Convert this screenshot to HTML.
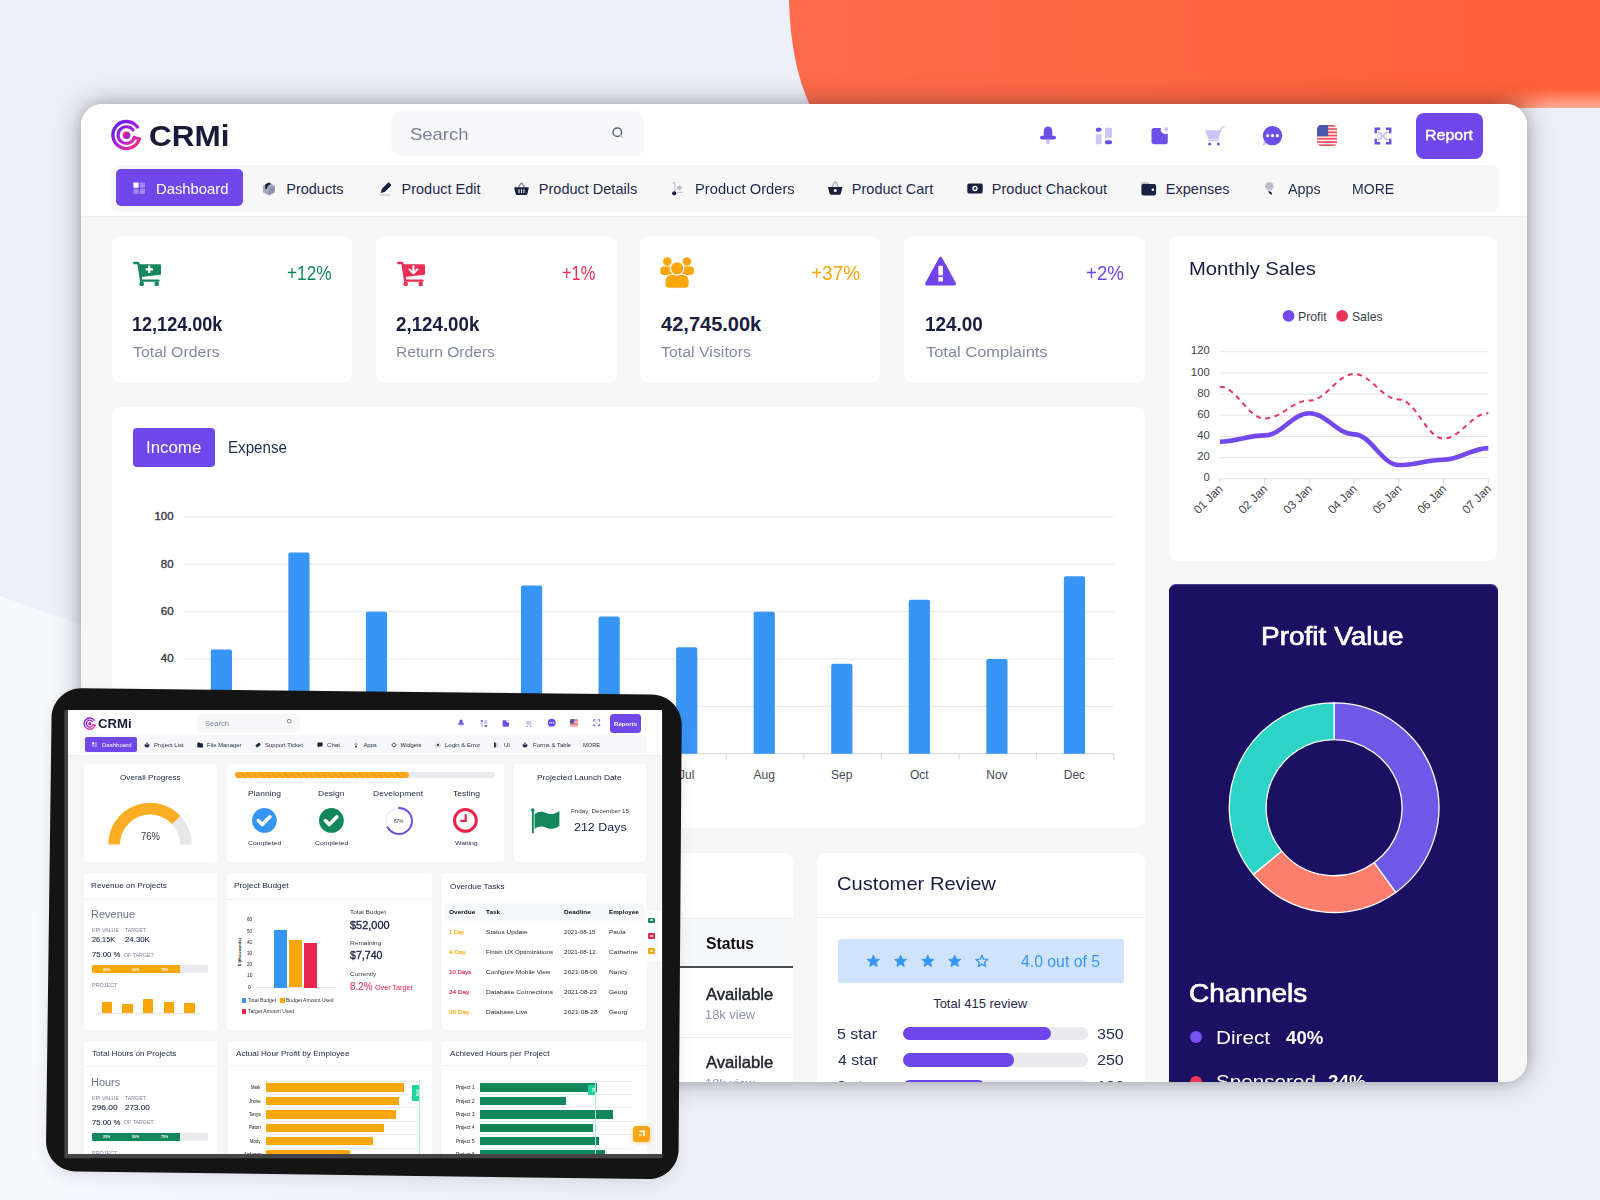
<!DOCTYPE html>
<html lang="en"><head><meta charset="utf-8"><title>CRMi Dashboard</title>
<style>
*{margin:0;padding:0;box-sizing:border-box}
html,body{width:1600px;height:1200px;overflow:hidden}
body{position:relative;background:#eef0f8;font-family:"Liberation Sans",sans-serif;color:#1b2142}
div,.t,svg.a{position:absolute}
.t{white-space:nowrap;line-height:1;transform-origin:0 50%;display:block;font-weight:400;font-style:normal;text-decoration:none}
.card{background:#fff;border-radius:9px}
</style></head>
<body>
<svg class="a" style="left:0;top:0" width="1600" height="1200" viewBox="0 0 1600 1200"><defs><linearGradient id="og" x1="0" y1="0" x2="1" y2="0"><stop offset="0" stop-color="#fe6b4b"/><stop offset=".45" stop-color="#ff6643"/><stop offset="1" stop-color="#ff5f39"/></linearGradient><linearGradient id="lg0" gradientUnits="userSpaceOnUse" x1="0" y1="0" x2="520" y2="0"><stop offset="0" stop-color="#f7f9fd"/><stop offset=".2" stop-color="#f5f7fc"/><stop offset="1" stop-color="#edf0f8"/></linearGradient><linearGradient id="hl" x1="0" y1="0" x2="0" y2="1"><stop offset="0" stop-color="#ffc9b8" stop-opacity="0"/><stop offset="1" stop-color="#ffc9b8" stop-opacity=".75"/></linearGradient><linearGradient id="hm" x1="0" y1="0" x2="1" y2="0"><stop offset="0" stop-color="#fff" stop-opacity="0"/><stop offset=".55" stop-color="#fff" stop-opacity="1"/></linearGradient><mask id="hmk"><rect x="1490" y="80" width="110" height="30" fill="url(#hm)"/></mask></defs><rect width="1600" height="1200" fill="#edf0f8"/><path d="M0 596 L520 781 L520 1200 L0 1200Z" fill="url(#lg0)"/><path d="M789 0 C790 40 796 76 811 108 L1600 108 L1600 0Z" fill="url(#og)"/><rect x="1490" y="89" width="110" height="19" fill="url(#hl)" mask="url(#hmk)"/></svg>
<div class="win" style="left:81px;top:104px;width:1446px;height:978px;border-radius:21px;background:#f6f6f7;overflow:hidden;box-shadow:0 0 28px rgba(38,40,48,.36),0 0 12px rgba(38,40,48,.16)">
<header aria-label="Top bar">
<div style="left:0px;top:0px;width:1446px;height:113px;background:#fff;border-bottom:1px solid #eeeef2"></div>
<svg class="a" style="left:28.7px;top:14.5px" width="32" height="32" viewBox="0 0 32 32"><defs><linearGradient id="lg1" gradientUnits="userSpaceOnUse" x1="4" y1="4" x2="28" y2="28"><stop offset="0" stop-color="#5a1cf0"/><stop offset=".55" stop-color="#b31fe0"/><stop offset="1" stop-color="#ff2d7a"/></linearGradient><linearGradient id="lg1d" x1="0" y1="0" x2="1" y2="1"><stop offset="0" stop-color="#ff2a6a"/><stop offset="1" stop-color="#7a1cf0"/></linearGradient></defs><path d="M27.32 8.06A13.5 13.5 0 1 0 29.31 19.95" fill="none" stroke="url(#lg1)" stroke-width="3.300" stroke-linecap="round"/><path d="M23.11 11.12A8.3 8.3 0 1 0 24.34 18.43" fill="none" stroke="url(#lg1)" stroke-width="3.100" stroke-linecap="round"/><path d="M24.34 18.43L29.31 19.95" stroke="url(#lg1)" stroke-width="3.100" stroke-linecap="round"/><circle cx="16.500" cy="16.200" r="3.800" fill="url(#lg1d)"/></svg>
<span class="t" style="left:68.04px;top:17.4px;font-size:29.4px;font-weight:700;color:#191a3a;transform:scaleX(1.071);">CRMi</span>
<div style="left:310px;top:7px;width:253px;height:45px;background:#f7f7f9;border-radius:9px"></div>
<span class="t" style="left:328.77px;top:22.2px;font-size:17px;color:#7b8098;transform:scaleX(1.086);">Search</span>
<svg class="a" style="left:529px;top:21px" width="16" height="16" viewBox="0 0 16 16"><circle cx="7.3" cy="7.2" r="4.3" fill="none" stroke="#5d6280" stroke-width="1.5"/><path d="M10.6 10.6l1.6 1.7" stroke="#b7bacb" stroke-width="1.4" stroke-linecap="round"/></svg>
<svg class="a" style="left:957px;top:21px" width="20" height="20" viewBox="0 0 20 20"><rect x="8.2" y="14" width="3.6" height="5" rx="1.3" fill="#cfc4f7"/><path d="M5.700 11.500V6a4.300 4.600 0 0 1 8.600 0v5.500z" fill="#6c4fe6"/><rect x="2" y="10.700" width="16" height="3.700" rx="1.850" fill="#6c4fe6"/></svg>
<svg class="a" style="left:1013px;top:21px" width="20" height="20" viewBox="0 0 20 20"><rect x="1.8" y="2.700" width="5.700" height="4.100" rx="1.800" fill="#6c4fe6"/><rect x="11" y="2.700" width="7" height="10.100" rx="1" fill="#cfc4f7"/><rect x="1.800" y="9.200" width="5.700" height="10.100" rx="1" fill="#cfc4f7"/><rect x="11" y="15.200" width="7" height="4.100" rx="1.800" fill="#6c4fe6"/></svg>
<svg class="a" style="left:1069px;top:21px" width="20" height="20" viewBox="0 0 20 20"><path d="M4.200 3h6.800a4.600 4.600 0 0 0 6.800 5.400V16.500a2.700 2.700 0 0 1-2.700 2.700H4.200a2.700 2.700 0 0 1-2.700-2.700V5.700A2.700 2.700 0 0 1 4.200 3z" fill="#6c4fe6"/><circle cx="16.200" cy="4.300" r="2.100" fill="#cfc4f7"/></svg>
<svg class="a" style="left:1123px;top:21px" width="22" height="22" viewBox="0 0 22 22"><path d="M1 5.200h14.600l2.200-3.400c.3-.5.800-.6 1.300-.5l1.700.4-.3 1.200-1.500-.3-2.500 4.300-1.900 7.300H4.200z" fill="#cfc4f7"/><rect x="4.200" y="14.700" width="11" height="1.300" fill="#cfc4f7"/><circle cx="5.600" cy="19" r="1.500" fill="#6c4fe6"/><circle cx="14.400" cy="19" r="1.500" fill="#6c4fe6"/></svg>
<svg class="a" style="left:1180px;top:20px" width="23" height="23" viewBox="0 0 23 23"><path d="M1.500 21.500l2.200-5.500 4 3.700z" fill="#cfc4f7"/><circle cx="11.500" cy="11.600" r="9.700" fill="#6c4fe6"/><circle cx="6.700" cy="11.700" r="1.600" fill="#fff"/><circle cx="11.500" cy="11.700" r="1.600" fill="#fff"/><circle cx="16.300" cy="11.700" r="1.600" fill="#fff"/></svg>
<svg class="a" style="left:1235.9px;top:21px" width="20.2" height="21" viewBox="0 0 20.2 21"><defs><clipPath id="fc"><rect x="0" y="0" width="20.200" height="21" rx="4.500"/></clipPath></defs><g clip-path="url(#fc)"><rect width="20.200" height="21" fill="#fdeeee"/><rect x="0" y="0" width="20.2" height="1.700" fill="#f4525f"/><rect x="0" y="3.23" width="20.2" height="1.700" fill="#f4525f"/><rect x="0" y="6.46" width="20.2" height="1.700" fill="#f4525f"/><rect x="0" y="9.69" width="20.2" height="1.700" fill="#f4525f"/><rect x="0" y="12.92" width="20.2" height="1.700" fill="#f4525f"/><rect x="0" y="16.15" width="20.2" height="1.700" fill="#f4525f"/><rect x="0" y="19.38" width="20.2" height="1.700" fill="#f4525f"/><rect x="0" y="0" width="11.200" height="11.200" fill="#4a5aa8"/></g></svg>
<svg class="a" style="left:1293px;top:23px" width="18" height="18" viewBox="0 0 18 18"><path d="M4.500 4.500l9 9M13.500 4.500l-9 9" stroke="#cfc4f7" stroke-width="2"/><path d="M1.800 6.200V1.800h4.400M11.800 1.800h4.400v4.400M16.200 11.800v4.400h-4.400M6.200 16.200H1.800v-4.400" fill="none" stroke="#6c4fe6" stroke-width="2.500"/></svg>
<div style="left:1335.2px;top:9.2px;width:67px;height:45.4px;background:#7047eb;border-radius:8px"></div>
<span class="t" style="left:1343.72px;top:24.4px;font-size:14.6px;color:#fff;transform:scaleX(1.093);-webkit-text-stroke:0.40px #fff;">Report</span>
<nav aria-label="Main">
<div style="left:29.5px;top:60.5px;width:1388.5px;height:47px;background:#f7f7f8;border-radius:7px"></div>
<div style="left:34.6px;top:65px;width:127.6px;height:37.3px;background:#7047eb;border-radius:5px"></div>
<svg class="a" style="left:51.5px;top:78.3px" width="12.4" height="12.4" viewBox="0 0 12.400 12.400"><rect x=".4" y=".5" width="5.200" height="5.200" rx=".8" fill="#fff"/><rect x="6.800" y=".5" width="5.200" height="5.200" rx=".8" fill="#fff" opacity=".35"/><rect x=".4" y="6.700" width="5.200" height="5.200" rx=".8" fill="#fff" opacity=".35"/><rect x="6.800" y="6.700" width="5.200" height="5.200" rx=".8" fill="#fff" opacity=".35"/></svg>
<a class="t" style="left:75.21px;top:77.5px;font-size:14.5px;color:#fff;transform:scaleX(1.022);">Dashboard</a>
<a class="t" style="left:205.23px;top:77.5px;font-size:14.5px;color:#1f2a49;">Products</a>
<a class="t" style="left:320.54px;top:77.5px;font-size:14.5px;color:#1f2a49;">Product Edit</a>
<a class="t" style="left:457.84px;top:77.5px;font-size:14.5px;color:#1f2a49;">Product Details</a>
<a class="t" style="left:613.82px;top:77.5px;font-size:14.5px;color:#1f2a49;transform:scaleX(1.014);">Product Orders</a>
<a class="t" style="left:770.83px;top:77.5px;font-size:14.5px;color:#1f2a49;">Product Cart</a>
<a class="t" style="left:910.83px;top:77.5px;font-size:14.5px;color:#1f2a49;">Product Chackout</a>
<a class="t" style="left:1084.85px;top:77.5px;font-size:14.5px;color:#1f2a49;">Expenses</a>
<a class="t" style="left:1206.5px;top:77.5px;font-size:14.5px;color:#1f2a49;transform:scaleX(0.986);">Apps</a>
<a class="t" style="left:1270.58px;top:77.5px;font-size:14.5px;color:#1f2a49;transform:scaleX(0.970);">MORE</a>
<svg class="a" style="left:180.8px;top:77.8px" width="13.6" height="14" viewBox="0 0 13.600 14"><path d="M6.800.5l5.900 3.200v6.600L6.800 13.500.9 10.300V3.700z" fill="#a5aabd"/><path d="M6.800 7v6.500l5.900-3.200V3.700z" fill="#8d93aa"/><path d="M3.200 2.400L6.800.5l2.600 1.400C6.500 2.500 5 4.200 4.800 7.300L3.200 6.400z" fill="#18213f"/></svg>
<svg class="a" style="left:297.5px;top:77.5px" width="13" height="14" viewBox="0 0 13 14"><path d="M8.700.9c.5-.5 1.200-.5 1.700 0l1.400 1.400c.5.5.5 1.200 0 1.700L5.700 10.100l-3.900 1 .9-4z" fill="#18213f"/><rect x="1" y="12.400" width="10.500" height="1.100" rx=".5" fill="#b9bdcc"/></svg>
<svg class="a" style="left:432.5px;top:77.5px" width="15" height="14" viewBox="0 0 15 14"><path d="M4.300 5.500L6.900 1.400 8.100 1.400 10.700 5.500" fill="none" stroke="#7f86a0" stroke-width="1.300"/><path d="M.8 5.300h13.400c.4 0 .7.400.6.800l-1.500 6c-.2.600-.7 1-1.300 1H3c-.6 0-1.100-.4-1.300-1l-1.500-6c-.1-.4.200-.8.600-.8z" fill="#18213f"/><path d="M5 7.600v3.200M7.500 7.600v3.200M10 7.600v3.200" stroke="#fff" stroke-width="1" stroke-linecap="round"/></svg>
<svg class="a" style="left:590px;top:77.5px" width="13" height="14" viewBox="0 0 13 14"><path d="M1.600.8h1.600c.4 0 .7.300.7.700v8.300" fill="none" stroke="#c4c8d6" stroke-width="1.400"/><circle cx="8.300" cy="5.800" r="2.400" fill="#b9bdcc"/><rect x="5.600" y="9.700" width="6.600" height="1.400" rx=".7" fill="#c4c8d6"/><circle cx="3.200" cy="11.300" r="2.100" fill="#18213f"/></svg>
<svg class="a" style="left:747px;top:77px" width="14.5" height="14.5" viewBox="0 0 14.500 14.500"><path d="M4 6.300L6.600 1.200 7.900 1.200 10.500 6.300" fill="none" stroke="#aeb3c4" stroke-width="1.400"/><path d="M.7 5.900h13.100c.4 0 .7.400.6.800l-1.600 6c-.2.600-.7 1-1.300 1H3c-.6 0-1.100-.4-1.300-1L.1 6.700c-.1-.4.200-.8.600-.8z" fill="#18213f"/><circle cx="7.250" cy="9.600" r="1.500" fill="#fff"/></svg>
<svg class="a" style="left:885.5px;top:78.5px" width="16" height="11" viewBox="0 0 16 11"><rect x=".3" y=".6" width="15.400" height="9.800" rx="1.600" fill="#18213f"/><circle cx="8" cy="5.500" r="2.700" fill="#fff"/><circle cx="8" cy="5.500" r="1.200" fill="#18213f"/></svg>
<svg class="a" style="left:1060px;top:76.5px" width="15.5" height="15" viewBox="0 0 15.500 15"><path d="M1.600 1.200h5.600c.6 0 1 .4 1 1v1.500H.6V2.200c0-.6.400-1 1-1z" fill="#b9bdcc"/><rect x=".4" y="3" width="14.700" height="11.400" rx="1.800" fill="#18213f"/><circle cx="11.800" cy="8.800" r="1.300" fill="#fff"/></svg>
<svg class="a" style="left:1182.5px;top:77px" width="11" height="15" viewBox="0 0 11 15"><circle cx="5.300" cy="5.200" r="4.300" fill="#b9bdcc"/><path d="M3.600 8.500h3.600l-.5 2.500H4.100z" fill="#d5d8e2"/><path d="M4.400 10.200c1.600-.3 3.200.6 3.500 2.400l.2 1.400-1.700-.9c-1.200-.6-1.800-1.600-2-2.900z" fill="#18213f"/></svg>
</nav>
</header>
<section aria-label="Summary">
<div class="card" style="left:30.8px;top:132px;width:240.2px;height:147px;"></div>
<div class="card" style="left:294.5px;top:132px;width:241px;height:147px;"></div>
<div class="card" style="left:559px;top:132px;width:240.4px;height:147px;"></div>
<div class="card" style="left:823px;top:132px;width:241.3px;height:147px;"></div>
<svg class="a" style="left:51.8px;top:157.1px" width="28.6" height="25.4" viewBox="0 0 28.600 25.400"><path d="M1.300 2.100h3.200c.6 0 1 .4 1.100 1L8.200 19.600" fill="none" stroke="#12875b" stroke-width="2.500" stroke-linecap="round" stroke-linejoin="round"/><path d="M5.500 3.300h21.400c.7 0 1.200.5 1.200 1.200v8c0 .6-.4 1.100-1 1.200L8.300 16.100z" fill="#12875b"/><path d="M8.200 19.600h17.200" stroke="#12875b" stroke-width="2.400" stroke-linecap="round"/><circle cx="8.700" cy="22.900" r="2.300" fill="#12875b"/><circle cx="23.700" cy="22.900" r="2.300" fill="#12875b"/><path d="M16.200 4.600v7.400M12.500 8.300h7.400" stroke="#fff" stroke-width="2.300"/></svg>
<span class="t" style="left:206.14px;top:160px;font-size:19.4px;color:#12875b;transform:scaleX(0.891);">+12%</span>
<span class="t" style="left:50.82px;top:210.3px;font-size:20px;font-weight:700;color:#191d40;transform:scaleX(0.903);">12,124.00k</span>
<span class="t" style="left:51.58px;top:239.6px;font-size:15.2px;color:#858aa3;transform:scaleX(1.048);">Total Orders</span>
<svg class="a" style="left:315.8px;top:156.9px" width="28.6" height="25.4" viewBox="0 0 28.600 25.400"><path d="M1.300 2.100h3.200c.6 0 1 .4 1.100 1L8.200 19.600" fill="none" stroke="#ea2f56" stroke-width="2.500" stroke-linecap="round" stroke-linejoin="round"/><path d="M5.500 3.300h21.400c.7 0 1.200.5 1.200 1.200v8c0 .6-.4 1.100-1 1.200L8.300 16.100z" fill="#ea2f56"/><path d="M8.200 19.600h17.200" stroke="#ea2f56" stroke-width="2.400" stroke-linecap="round"/><circle cx="8.700" cy="22.900" r="2.300" fill="#ea2f56"/><circle cx="23.700" cy="22.900" r="2.300" fill="#ea2f56"/><path d="M16.400 4.400v7.600M12 7.900l4.400 4.400 4.400-4.400" fill="none" stroke="#fff" stroke-width="2" stroke-linejoin="miter"/></svg>
<span class="t" style="left:481.18px;top:160px;font-size:19.4px;color:#ea2f56;transform:scaleX(0.848);">+1%</span>
<span class="t" style="left:315.34px;top:210.3px;font-size:20px;font-weight:700;color:#191d40;transform:scaleX(0.937);">2,124.00k</span>
<span class="t" style="left:314.75px;top:239.6px;font-size:15.2px;color:#858aa3;transform:scaleX(1.028);">Return Orders</span>
<svg class="a" style="left:579.4px;top:152.7px" width="34.2" height="32" viewBox="0 0 34.200 32"><circle cx="7.300" cy="4.600" r="4.250" fill="#fba60b"/><circle cx="26.900" cy="4.600" r="4.250" fill="#fba60b"/><path d="M3.600 9.400h7.400c1 0 1.500.6 1.500 1.500v4.300c0 1.700-1.300 2.800-3 2.800H3.500C1.700 18 .3 16.700.3 15v-2.300C.3 10.900 1.700 9.400 3.600 9.400z" fill="#fba60b"/><path d="M30.600 9.400h-7.400c-1 0-1.500.6-1.500 1.500v4.300c0 1.700 1.300 2.800 3 2.800h6c1.800 0 3.200-1.300 3.200-3v-2.300c0-1.800-1.400-3.300-3.300-3.300z" fill="#fba60b"/><path d="M5 26.900V24.500C5 20 8 17.200 12.500 17.200H21.700C26.200 17.200 29.200 20 29.200 24.500V26.900C29.200 29.500 27.400 31.300 24.800 31.300H9.400C6.800 31.300 5 29.500 5 26.900Z" fill="#fba60b" stroke="#fff" stroke-width="1.100"/><circle cx="17.100" cy="11.400" r="7.300" fill="#fff"/><circle cx="17.100" cy="11.400" r="6.100" fill="#fba60b"/></svg>
<span class="t" style="left:730.05px;top:160px;font-size:19.4px;color:#fba60b;transform:scaleX(0.979);">+37%</span>
<span class="t" style="left:580.1px;top:210.3px;font-size:20px;font-weight:700;color:#191d40;">42,745.00k</span>
<span class="t" style="left:580.08px;top:239.6px;font-size:15.2px;color:#858aa3;transform:scaleX(1.048);">Total Visitors</span>
<svg class="a" style="left:843.9px;top:152.4px" width="31.2" height="30" viewBox="0 0 31.200 30"><path d="M14.100 1.700c.7-1.300 2.300-1.300 3 0l13.700 25c.7 1.300-.1 2.800-1.600 2.800H2c-1.500 0-2.300-1.500-1.600-2.800z" fill="#7044ec"/><rect x="13.400" y="9.800" width="4.500" height="9.600" fill="#fff"/><rect x="13.400" y="21" width="4.500" height="4.500" fill="#fff"/></svg>
<span class="t" style="left:1005.06px;top:160px;font-size:19.4px;color:#7044ec;transform:scaleX(0.965);">+2%</span>
<span class="t" style="left:843.86px;top:210.3px;font-size:20px;font-weight:700;color:#191d40;transform:scaleX(0.946);">124.00</span>
<span class="t" style="left:844.67px;top:239.6px;font-size:15.2px;color:#858aa3;transform:scaleX(1.083);">Total Complaints</span>
</section>
<section aria-label="Income and expense">
<div class="card" style="left:30.8px;top:303px;width:1033.5px;height:420.6px;"></div>
<div style="left:51.7px;top:324px;width:82.1px;height:38.5px;background:#7047eb;border-radius:4px"></div>
<span class="t" style="left:64.68px;top:336px;font-size:15.8px;color:#fff;transform:scaleX(1.067);">Income</span>
<span class="t" style="left:147.09px;top:336px;font-size:15.8px;color:#1f2a4d;transform:scaleX(0.958);">Expense</span>
<svg class="a" style="left:30.8px;top:376px" width="1033.5" height="330" viewBox="111.8 480 1033.5 330" font-family="Liberation Sans, sans-serif"><path d="M183.5 516.95H1113.7" stroke="#e9e9ec" stroke-width="1.200"/><path d="M183.5 564.3H1113.7" stroke="#e9e9ec" stroke-width="1.200"/><path d="M183.5 611.65H1113.7" stroke="#e9e9ec" stroke-width="1.200"/><path d="M183.5 659H1113.7" stroke="#e9e9ec" stroke-width="1.200"/><path d="M183.5 706.35H1113.7" stroke="#e9e9ec" stroke-width="1.200"/><text x="173.400" y="520.25" text-anchor="end" font-size="11.500" fill="#3f434c" stroke="#3f434c" stroke-width=".45">100</text><text x="173.400" y="567.6" text-anchor="end" font-size="11.500" fill="#3f434c" stroke="#3f434c" stroke-width=".45">80</text><text x="173.400" y="614.95" text-anchor="end" font-size="11.500" fill="#3f434c" stroke="#3f434c" stroke-width=".45">60</text><text x="173.400" y="662.3" text-anchor="end" font-size="11.500" fill="#3f434c" stroke="#3f434c" stroke-width=".45">40</text><text x="173.400" y="709.65" text-anchor="end" font-size="11.500" fill="#3f434c" stroke="#3f434c" stroke-width=".45">20</text><text x="173.400" y="757" text-anchor="end" font-size="11.500" fill="#3f434c" stroke="#3f434c" stroke-width=".45">0</text><path d="M183.5 753.7H1113.7" stroke="#dcdce0" stroke-width="1.300"/><path d="M261.02 753.7v6" stroke="#dcdce0" stroke-width="1.100"/><path d="M338.53 753.7v6" stroke="#dcdce0" stroke-width="1.100"/><path d="M416.05 753.7v6" stroke="#dcdce0" stroke-width="1.100"/><path d="M493.57 753.7v6" stroke="#dcdce0" stroke-width="1.100"/><path d="M571.08 753.7v6" stroke="#dcdce0" stroke-width="1.100"/><path d="M648.6 753.7v6" stroke="#dcdce0" stroke-width="1.100"/><path d="M726.12 753.7v6" stroke="#dcdce0" stroke-width="1.100"/><path d="M803.63 753.7v6" stroke="#dcdce0" stroke-width="1.100"/><path d="M881.15 753.7v6" stroke="#dcdce0" stroke-width="1.100"/><path d="M958.67 753.7v6" stroke="#dcdce0" stroke-width="1.100"/><path d="M1036.18 753.7v6" stroke="#dcdce0" stroke-width="1.100"/><path d="M1113.7 753.7v6" stroke="#dcdce0" stroke-width="1.100"/><path d="M210.6 753.7V651.53q0-2 2-2h17.200q2 0 2 2V753.7z" fill="#3795f6"/><text x="221.2" y="778.800" text-anchor="middle" font-size="12" fill="#474b55">Jan</text><path d="M288.15 753.7V554.46q0-2 2-2h17.200q2 0 2 2V753.7z" fill="#3795f6"/><text x="298.75" y="778.800" text-anchor="middle" font-size="12" fill="#474b55">Feb</text><path d="M365.7 753.7V613.65q0-2 2-2h17.200q2 0 2 2V753.7z" fill="#3795f6"/><text x="376.3" y="778.800" text-anchor="middle" font-size="12" fill="#474b55">Mar</text><text x="453.85" y="778.800" text-anchor="middle" font-size="12" fill="#474b55">Apr</text><path d="M520.8 753.7V587.61q0-2 2-2h17.200q2 0 2 2V753.7z" fill="#3795f6"/><text x="531.4" y="778.800" text-anchor="middle" font-size="12" fill="#474b55">May</text><path d="M598.35 753.7V618.38q0-2 2-2h17.200q2 0 2 2V753.7z" fill="#3795f6"/><text x="608.95" y="778.800" text-anchor="middle" font-size="12" fill="#474b55">Jun</text><path d="M675.9 753.7V649.16q0-2 2-2h17.200q2 0 2 2V753.7z" fill="#3795f6"/><text x="686.5" y="778.800" text-anchor="middle" font-size="12" fill="#474b55">Jul</text><path d="M753.45 753.7V613.65q0-2 2-2h17.200q2 0 2 2V753.7z" fill="#3795f6"/><text x="764.05" y="778.800" text-anchor="middle" font-size="12" fill="#474b55">Aug</text><path d="M831 753.7V665.74q0-2 2-2h17.200q2 0 2 2V753.7z" fill="#3795f6"/><text x="841.6" y="778.800" text-anchor="middle" font-size="12" fill="#474b55">Sep</text><path d="M908.55 753.7V601.81q0-2 2-2h17.200q2 0 2 2V753.7z" fill="#3795f6"/><text x="919.15" y="778.800" text-anchor="middle" font-size="12" fill="#474b55">Oct</text><path d="M986.1 753.7V661q0-2 2-2h17.200q2 0 2 2V753.7z" fill="#3795f6"/><text x="996.7" y="778.800" text-anchor="middle" font-size="12" fill="#474b55">Nov</text><path d="M1063.65 753.7V578.14q0-2 2-2h17.200q2 0 2 2V753.7z" fill="#3795f6"/><text x="1074.25" y="778.800" text-anchor="middle" font-size="12" fill="#474b55">Dec</text></svg>
</section>
<section aria-label="Monthly sales">
<div class="card" style="left:1087.6px;top:132px;width:328.8px;height:325px;"></div>
<h3 class="t" style="left:1107.68px;top:156.3px;font-size:18.8px;color:#191d40;transform:scaleX(1.076);">Monthly Sales</h3>
<svg class="a" style="left:1087.6px;top:196px" width="328.8" height="250" viewBox="1168.6 300 328.8 250" font-family="Liberation Sans, sans-serif"><circle cx="1288.200" cy="315.900" r="5.900" fill="#7349ee"/><text x="1297.600" y="320.600" font-size="12.300" fill="#3b3f48">Profit</text><circle cx="1341.700" cy="315.900" r="5.900" fill="#ea3358"/><text x="1351.500" y="320.600" font-size="12.300" fill="#3b3f48">Sales</text><path d="M1219.5 478.8H1487.9" stroke="#dcdce0" stroke-width="1.100"/><text x="1209.300" y="481.5" text-anchor="end" font-size="11.300" fill="#3f434c">0</text><path d="M1219.5 457.63H1487.9" stroke="#e6e6ea" stroke-width="1.100"/><text x="1209.300" y="460.33" text-anchor="end" font-size="11.300" fill="#3f434c">20</text><path d="M1219.5 436.47H1487.9" stroke="#e6e6ea" stroke-width="1.100"/><text x="1209.300" y="439.17" text-anchor="end" font-size="11.300" fill="#3f434c">40</text><path d="M1219.5 415.3H1487.9" stroke="#e6e6ea" stroke-width="1.100"/><text x="1209.300" y="418" text-anchor="end" font-size="11.300" fill="#3f434c">60</text><path d="M1219.5 394.14H1487.9" stroke="#e6e6ea" stroke-width="1.100"/><text x="1209.300" y="396.84" text-anchor="end" font-size="11.300" fill="#3f434c">80</text><path d="M1219.5 372.97H1487.9" stroke="#e6e6ea" stroke-width="1.100"/><text x="1209.300" y="375.67" text-anchor="end" font-size="11.300" fill="#3f434c">100</text><path d="M1219.5 351.8H1487.9" stroke="#e6e6ea" stroke-width="1.100"/><text x="1209.300" y="354.5" text-anchor="end" font-size="11.300" fill="#3f434c">120</text><path d="M1219.5 478.8v6" stroke="#dcdce0" stroke-width="1.100"/><text transform="translate(1223.1 489.500) rotate(-45)" text-anchor="end" font-size="11.800" fill="#3f434c">01 Jan</text><path d="M1264.23 478.8v6" stroke="#dcdce0" stroke-width="1.100"/><text transform="translate(1267.83 489.500) rotate(-45)" text-anchor="end" font-size="11.800" fill="#3f434c">02 Jan</text><path d="M1308.97 478.8v6" stroke="#dcdce0" stroke-width="1.100"/><text transform="translate(1312.57 489.500) rotate(-45)" text-anchor="end" font-size="11.800" fill="#3f434c">03 Jan</text><path d="M1353.7 478.8v6" stroke="#dcdce0" stroke-width="1.100"/><text transform="translate(1357.3 489.500) rotate(-45)" text-anchor="end" font-size="11.800" fill="#3f434c">04 Jan</text><path d="M1398.43 478.8v6" stroke="#dcdce0" stroke-width="1.100"/><text transform="translate(1402.03 489.500) rotate(-45)" text-anchor="end" font-size="11.800" fill="#3f434c">05 Jan</text><path d="M1443.17 478.8v6" stroke="#dcdce0" stroke-width="1.100"/><text transform="translate(1446.77 489.500) rotate(-45)" text-anchor="end" font-size="11.800" fill="#3f434c">06 Jan</text><path d="M1487.9 478.8v6" stroke="#dcdce0" stroke-width="1.100"/><text transform="translate(1491.5 489.500) rotate(-45)" text-anchor="end" font-size="11.800" fill="#3f434c">07 Jan</text><path d="M1219.5 386.73C1236.5 386.73 1247.23 418.48 1264.23 418.48C1281.23 418.48 1291.97 400.49 1308.97 400.49C1325.97 400.49 1336.7 374.03 1353.7 374.03C1370.7 374.03 1381.43 399.43 1398.43 399.43C1415.43 399.43 1426.17 438.58 1443.17 438.58C1460.17 438.58 1470.9 413.19 1487.9 413.19" fill="none" stroke="#ea3358" stroke-width="2" stroke-dasharray="5 4.500"/><path d="M1219.5 441.76C1236.5 441.76 1247.23 435.41 1264.23 435.41C1281.23 435.41 1291.97 413.19 1308.97 413.19C1325.97 413.19 1336.7 434.35 1353.7 434.35C1370.7 434.35 1381.43 465.04 1398.43 465.04C1415.43 465.04 1426.17 459.75 1443.17 459.75C1460.17 459.75 1470.9 448.11 1487.9 448.11" fill="none" stroke="#7349ee" stroke-width="4.600" stroke-linecap="butt"/></svg>
</section>
<section aria-label="Profit value">
<div style="left:1087.8px;top:480.2px;width:329px;height:515.8px;background:#1b1061;border-radius:7px;border-top:1px solid #4a4290"></div>
<h3 class="t" style="left:1179.76px;top:519.1px;font-size:26px;color:#fff;transform:scaleX(1.077);-webkit-text-stroke:0.71px #fff;">Profit Value</h3>
<svg class="a" style="left:1137px;top:588px" width="232" height="232" viewBox="1218 692 232 232"><path d="M1334.10 702.90A104.8 104.8 0 0 1 1395.70 892.48L1374.07 862.71A68 68 0 0 0 1334.10 739.70Z" fill="#6f57e8" stroke="#fff" stroke-width="1.300" stroke-linejoin="round"/><path d="M1395.70 892.48A104.8 104.8 0 0 1 1253.35 874.50L1281.71 851.04A68 68 0 0 0 1374.07 862.71Z" fill="#fe7e6e" stroke="#fff" stroke-width="1.300" stroke-linejoin="round"/><path d="M1253.35 874.50A104.8 104.8 0 0 1 1334.10 702.90L1334.10 739.70A68 68 0 0 0 1281.71 851.04Z" fill="#2ed3c8" stroke="#fff" stroke-width="1.300" stroke-linejoin="round"/></svg>
<h3 class="t" style="left:1107.6px;top:877.2px;font-size:25px;color:#fff;transform:scaleX(1.119);-webkit-text-stroke:0.69px #fff;">Channels</h3>
<div style="left:1108.8px;top:927px;width:12px;height:12px;background:#7a52f4;border-radius:50%"></div>
<span class="t" style="left:1134.75px;top:923.7px;font-size:19.2px;color:#fff;transform:scaleX(1.077);">Direct</span>
<span class="t" style="left:1204.72px;top:923.7px;font-size:19.2px;font-weight:700;color:#fff;transform:scaleX(0.973);">40%</span>
<div style="left:1108.8px;top:971.7px;width:12px;height:12px;background:#f2385a;border-radius:50%"></div>
<span class="t" style="left:1135.47px;top:968.3px;font-size:19.2px;color:#fff;transform:scaleX(1.076);">Sponsored</span>
<span class="t" style="left:1247.34px;top:968.3px;font-size:19.2px;font-weight:700;color:#fff;transform:scaleX(0.980);">24%</span>
</section>
<section aria-label="Status and reviews">
<div class="card" style="left:30.8px;top:748.5px;width:681.6px;height:247.5px;"></div>
<div style="left:30.8px;top:813.5px;width:681.6px;height:50.5px;background:#f7f8fa;border-top:1px solid #eeeef1;border-bottom:2px solid #4b4b52"></div>
<span class="t" style="left:624.53px;top:831.8px;font-size:16px;font-weight:700;color:#101014;transform:scaleX(0.984);">Status</span>
<span class="t" style="left:625px;top:882.7px;font-size:15.6px;color:#23252e;transform:scaleX(1.067);-webkit-text-stroke:0.43px #23252e;">Available</span>
<span class="t" style="left:624.03px;top:904px;font-size:13.4px;color:#8f93ab;transform:scaleX(0.963);">18k view</span>
<div style="left:30.8px;top:932.5px;width:681.6px;height:1.2px;background:#ececf0"></div>
<span class="t" style="left:625px;top:951.4px;font-size:15.6px;color:#23252e;transform:scaleX(1.067);-webkit-text-stroke:0.43px #23252e;">Available</span>
<span class="t" style="left:624.03px;top:972.7px;font-size:13.4px;color:#8f93ab;transform:scaleX(0.963);">18k view</span>
<div class="card" style="left:735.9px;top:748.5px;width:328.4px;height:247.5px;"></div>
<h3 class="t" style="left:755.99px;top:771.3px;font-size:18.6px;color:#191d40;transform:scaleX(1.083);">Customer Review</h3>
<div style="left:735.9px;top:812.6px;width:328.4px;height:1.2px;background:#ededf1"></div>
<div style="left:757px;top:835.4px;width:286px;height:43.6px;background:#cfe4fc;border-radius:3px"></div>
<svg class="a" style="left:779px;top:846px" width="135" height="24" viewBox="860 950 135 24"><polygon points="873.40,955.10 875.03,959.16 879.39,959.45 876.04,962.26 877.10,966.50 873.40,964.17 869.70,966.50 870.76,962.26 867.41,959.45 871.77,959.16" fill="#3795f6" stroke="#3795f6" stroke-width="1" stroke-linejoin="round"/><polygon points="900.60,955.10 902.23,959.16 906.59,959.45 903.24,962.26 904.30,966.50 900.60,964.17 896.90,966.50 897.96,962.26 894.61,959.45 898.97,959.16" fill="#3795f6" stroke="#3795f6" stroke-width="1" stroke-linejoin="round"/><polygon points="927.80,955.10 929.43,959.16 933.79,959.45 930.44,962.26 931.50,966.50 927.80,964.17 924.10,966.50 925.16,962.26 921.81,959.45 926.17,959.16" fill="#3795f6" stroke="#3795f6" stroke-width="1" stroke-linejoin="round"/><polygon points="954.70,955.10 956.33,959.16 960.69,959.45 957.34,962.26 958.40,966.50 954.70,964.17 951.00,966.50 952.06,962.26 948.71,959.45 953.07,959.16" fill="#3795f6" stroke="#3795f6" stroke-width="1" stroke-linejoin="round"/><polygon points="981.90,955.10 983.53,959.16 987.89,959.45 984.54,962.26 985.60,966.50 981.90,964.17 978.20,966.50 979.26,962.26 975.91,959.45 980.27,959.16" fill="none" stroke="#3795f6" stroke-width="1.300" stroke-linejoin="round"/></svg>
<span class="t" style="left:940.28px;top:849.9px;font-size:15.6px;color:#3795f6;transform:scaleX(1.012);">4.0 out of 5</span>
<span class="t" style="left:852.14px;top:893px;font-size:13px;color:#1f2a4d;">Total 415 review</span>
<span class="t" style="left:756.36px;top:921.75px;font-size:15.4px;color:#1f2a4d;transform:scaleX(1.041);">5 star</span>
<div style="left:822px;top:922.9px;width:184.5px;height:13.4px;background:#e9e9ee;border-radius:7px"></div>
<div style="left:822px;top:922.9px;width:147.6px;height:13.4px;background:#6f45ec;border-radius:7px"></div>
<span class="t" style="left:1016.36px;top:921.75px;font-size:15.4px;color:#1f2a4d;transform:scaleX(1.037);">350</span>
<span class="t" style="left:756.68px;top:948px;font-size:15.4px;color:#1f2a4d;transform:scaleX(1.033);">4 star</span>
<div style="left:822px;top:949.4px;width:184.5px;height:13.4px;background:#e9e9ee;border-radius:7px"></div>
<div style="left:822px;top:949.4px;width:110.75px;height:13.4px;background:#6f45ec;border-radius:7px"></div>
<span class="t" style="left:1016.2px;top:948px;font-size:15.4px;color:#1f2a4d;transform:scaleX(1.044);">250</span>
<span class="t" style="left:756.36px;top:974.2px;font-size:15.4px;color:#1f2a4d;transform:scaleX(1.041);">3 star</span>
<div style="left:822px;top:975.9px;width:184.5px;height:13.4px;background:#e9e9ee;border-radius:7px"></div>
<div style="left:822px;top:975.9px;width:82px;height:13.4px;background:#6f45ec;border-radius:7px"></div>
<span class="t" style="left:1015.77px;top:974.2px;font-size:15.4px;color:#1f2a4d;transform:scaleX(1.061);">100</span>
</section>
</div>
<aside aria-label="Tablet preview">
<svg class="a" style="left:0;top:640px" width="760" height="560" viewBox="0 640 760 560"><defs><filter id="tsh" x="-10%" y="-10%" width="120%" height="125%"><feGaussianBlur stdDeviation="7"/></filter></defs><path d="M51.52 717.90C51.73 701.33 65.33 688.05 81.90 688.23L651.90 694.57C668.47 694.75 681.80 708.33 681.68 724.90L678.62 1149.40C678.50 1165.97 664.97 1179.22 648.40 1179.00L75.70 1171.40C59.13 1171.18 45.87 1157.57 46.08 1141.00Z" fill="#30324a" opacity=".10" filter="url(#tsh)" transform="translate(0 6)"/><path d="M51.52 717.90C51.73 701.33 65.33 688.05 81.90 688.23L651.90 694.57C668.47 694.75 681.80 708.33 681.68 724.90L678.62 1149.40C678.50 1165.97 664.97 1179.22 648.40 1179.00L75.70 1171.40C59.13 1171.18 45.87 1157.57 46.08 1141.00Z" fill="#141414"/><rect x="64.400" y="710" width="598" height="448.300" fill="#454545"/></svg>
<div class="scr" style="left:68px;top:710px;width:594.4px;height:444px;background:#f6f6f7;overflow:hidden">
<div style="left:0px;top:0px;width:594.4px;height:45.9px;background:#fff;border-bottom:.5px solid #eeeef2"></div>
<svg class="a" style="left:14.6px;top:6.7px" width="13.23" height="13.23" viewBox="0 0 32 32"><defs><linearGradient id="lg2" gradientUnits="userSpaceOnUse" x1="4" y1="4" x2="28" y2="28"><stop offset="0" stop-color="#5a1cf0"/><stop offset=".55" stop-color="#b31fe0"/><stop offset="1" stop-color="#ff2d7a"/></linearGradient><linearGradient id="lg2d" x1="0" y1="0" x2="1" y2="1"><stop offset="0" stop-color="#ff2a6a"/><stop offset="1" stop-color="#7a1cf0"/></linearGradient></defs><path d="M27.32 8.06A13.5 13.5 0 1 0 29.31 19.95" fill="none" stroke="url(#lg2)" stroke-width="3.300" stroke-linecap="round"/><path d="M23.11 11.12A8.3 8.3 0 1 0 24.34 18.43" fill="none" stroke="url(#lg2)" stroke-width="3.100" stroke-linecap="round"/><path d="M24.34 18.43L29.31 19.95" stroke="url(#lg2)" stroke-width="3.100" stroke-linecap="round"/><circle cx="16.500" cy="16.200" r="3.800" fill="url(#lg2d)"/></svg>
<span class="t" style="left:30.47px;top:7.9px;font-size:12.2px;font-weight:700;color:#191a3a;transform:scaleX(1.081);">CRMi</span>
<div style="left:129.4px;top:4px;width:102.2px;height:17.5px;background:#f7f7f9;border-radius:4px"></div>
<span class="t" style="left:136.66px;top:10.9px;font-size:6.9px;color:#7b8098;transform:scaleX(1.101);">Search</span>
<svg class="a" style="left:217.7px;top:8.2px" width="7" height="7" viewBox="0 0 16 16"><circle cx="7.300" cy="7.200" r="4.300" fill="none" stroke="#5d6280" stroke-width="1.800"/><path d="M10.600 10.600l1.600 1.700" stroke="#b7bacb" stroke-width="1.400" stroke-linecap="round"/></svg>
<svg class="a" style="left:389.2px;top:9.1px" width="8" height="8" viewBox="0 0 20 20"><rect x="8.2" y="14" width="3.6" height="5" rx="1.3" fill="#cfc4f7"/><path d="M5.700 11.500V6a4.300 4.600 0 0 1 8.600 0v5.500z" fill="#6c4fe6"/><rect x="2" y="10.700" width="16" height="3.700" rx="1.850" fill="#6c4fe6"/></svg>
<svg class="a" style="left:411.5px;top:9.1px" width="8" height="8" viewBox="0 0 20 20"><rect x="1.800" y="2.700" width="5.700" height="4.100" rx="1.800" fill="#6c4fe6"/><rect x="11" y="2.700" width="7" height="10.100" rx="1" fill="#cfc4f7"/><rect x="1.800" y="9.200" width="5.700" height="10.100" rx="1" fill="#cfc4f7"/><rect x="11" y="15.200" width="7" height="4.100" rx="1.800" fill="#6c4fe6"/></svg>
<svg class="a" style="left:434.2px;top:9.1px" width="8" height="8" viewBox="0 0 20 20"><path d="M4.200 3h6.800a4.600 4.600 0 0 0 6.800 5.400V16.500a2.700 2.700 0 0 1-2.700 2.700H4.200a2.700 2.700 0 0 1-2.700-2.700V5.700A2.700 2.700 0 0 1 4.200 3z" fill="#6c4fe6"/><circle cx="16.200" cy="4.300" r="2.100" fill="#cfc4f7"/></svg>
<svg class="a" style="left:456.6px;top:8.7px" width="8.8" height="8.8" viewBox="0 0 22 22"><path d="M1 5.200h14.600l2.200-3.400c.3-.5.800-.6 1.300-.5l1.700.4-.3 1.200-1.500-.3-2.500 4.300-1.900 7.300H4.200z" fill="#cfc4f7"/><rect x="4.200" y="14.700" width="11" height="1.300" fill="#cfc4f7"/><circle cx="5.600" cy="19" r="1.500" fill="#6c4fe6"/><circle cx="14.400" cy="19" r="1.500" fill="#6c4fe6"/></svg>
<svg class="a" style="left:479.3px;top:8.4px" width="9.4" height="9.4" viewBox="0 0 23 23"><path d="M1.500 21.500l2.200-5.500 4 3.700z" fill="#cfc4f7"/><circle cx="11.500" cy="11.600" r="9.700" fill="#6c4fe6"/><circle cx="6.700" cy="11.700" r="1.600" fill="#fff"/><circle cx="11.500" cy="11.700" r="1.600" fill="#fff"/><circle cx="16.300" cy="11.700" r="1.600" fill="#fff"/></svg>
<svg class="a" style="left:502.4px;top:8.8px" width="8.6" height="8.6" viewBox="0 0 21 21"><defs><clipPath id="fc2"><rect x="0" y="0" width="20.200" height="21" rx="4.500"/></clipPath></defs><g clip-path="url(#fc2)"><rect width="20.200" height="21" fill="#fdeeee"/><rect x="0" y="0" width="20.200" height="1.700" fill="#f4525f"/><rect x="0" y="3.23" width="20.200" height="1.700" fill="#f4525f"/><rect x="0" y="6.46" width="20.200" height="1.700" fill="#f4525f"/><rect x="0" y="9.69" width="20.200" height="1.700" fill="#f4525f"/><rect x="0" y="12.92" width="20.200" height="1.700" fill="#f4525f"/><rect x="0" y="16.15" width="20.200" height="1.700" fill="#f4525f"/><rect x="0" y="19.38" width="20.200" height="1.700" fill="#f4525f"/><rect x="0" y="0" width="10.400" height="11.200" fill="#4a5aa8"/></g></svg>
<svg class="a" style="left:525.3px;top:9.4px" width="7.4" height="7.4" viewBox="0 0 18 18"><path d="M4.500 4.500l9 9M13.500 4.500l-9 9" stroke="#cfc4f7" stroke-width="1.700"/><path d="M1.800 6.200V1.800h4.400M11.800 1.800h4.400v4.400M16.200 11.800v4.400h-4.400M6.200 16.200H1.800v-4.400" fill="none" stroke="#6c4fe6" stroke-width="2.300"/></svg>
<div style="left:542.4px;top:4.4px;width:30.8px;height:18.2px;background:#7047eb;border-radius:3.500px"></div>
<span class="t" style="left:546.2px;top:10.6px;font-size:6px;font-weight:700;color:#fff;transform:scaleX(1.017);">Reports</span>
<div style="left:12px;top:25.2px;width:567px;height:18.3px;background:#f7f7f9;border-radius:3px"></div>
<div style="left:17px;top:27px;width:52px;height:15px;background:#7047eb;border-radius:2.200px"></div>
<svg class="a" style="left:23.7px;top:32px" width="5.2" height="5.2" viewBox="0 0 12.400 12.400"><rect x=".4" y=".5" width="5.200" height="5.200" rx=".8" fill="#fff"/><rect x="6.800" y=".5" width="5.200" height="5.200" rx=".8" fill="#fff" opacity=".4"/><rect x=".4" y="6.700" width="5.200" height="5.200" rx=".8" fill="#fff" opacity=".4"/><rect x="6.800" y="6.700" width="5.200" height="5.200" rx=".8" fill="#fff" opacity=".4"/></svg>
<span class="t" style="left:33.72px;top:32.6px;font-size:5.8px;color:#fff;transform:scaleX(1.043);">Dashboard</span>
<span class="t" style="left:86.22px;top:32.6px;font-size:5.8px;color:#1f2a49;transform:scaleX(1.031);">Project List</span>
<svg class="a" style="left:76.2px;top:31.9px" width="6" height="6" viewBox="0 0 6 6"><path d="M.4 2.600h5.200c0 1.600-1.100 2.900-2.600 2.900S.4 4.200.4 2.600z" fill="#18213f"/><path d="M1.700 2.400L3 .6l1.300 1.800" fill="none" stroke="#18213f" stroke-width=".7"/></svg>
<span class="t" style="left:139.13px;top:32.6px;font-size:5.8px;color:#1f2a49;transform:scaleX(1.018);">File Manager</span>
<svg class="a" style="left:128.7px;top:31.9px" width="6" height="6" viewBox="0 0 6 6"><path d="M.3 1.200c0-.4.300-.7.700-.7h1.600l.7.800h2c.4 0 .7.300.7.700v2.800c0 .4-.3.700-.7.700H1c-.4 0-.7-.3-.7-.7z" fill="#18213f"/></svg>
<span class="t" style="left:197.43px;top:32.6px;font-size:5.8px;color:#1f2a49;transform:scaleX(1.020);">Support Ticket</span>
<svg class="a" style="left:187.2px;top:31.9px" width="6" height="6" viewBox="0 0 6 6"><rect x=".6" y="1.700" width="4.800" height="2.800" rx=".5" fill="#18213f" transform="rotate(-40 3 3)"/></svg>
<span class="t" style="left:258.89px;top:32.6px;font-size:5.8px;color:#1f2a49;transform:scaleX(1.053);">Chat</span>
<svg class="a" style="left:248.7px;top:31.9px" width="6" height="6" viewBox="0 0 6 6"><path d="M.4 1.300c0-.4.300-.7.700-.7h3.800c.4 0 .7.300.7.700v2.400c0 .4-.3.700-.7.700H2.400L1 5.500V4.400c-.4 0-.6-.3-.6-.7z" fill="#18213f"/></svg>
<span class="t" style="left:295.5px;top:32.6px;font-size:5.8px;color:#1f2a49;">Apps</span>
<svg class="a" style="left:285px;top:31.9px" width="6" height="6" viewBox="0 0 6 6"><circle cx="3" cy="2.200" r="1.700" fill="#b9bdcc"/><path d="M2.200 3.800h1.600v1.600H2.200z" fill="#18213f"/></svg>
<span class="t" style="left:332.47px;top:32.6px;font-size:5.8px;color:#1f2a49;">Widgets</span>
<svg class="a" style="left:322.5px;top:31.9px" width="6" height="6" viewBox="0 0 6 6"><rect x="1.400" y="1.400" width="3.200" height="3.200" rx=".5" fill="none" stroke="#18213f" stroke-width=".9" transform="rotate(45 3 3)"/></svg>
<span class="t" style="left:376.82px;top:32.6px;font-size:5.8px;color:#1f2a49;transform:scaleX(1.035);">Login &amp; Error</span>
<svg class="a" style="left:366.8px;top:31.9px" width="6" height="6" viewBox="0 0 6 6"><circle cx="3" cy="3" r="2.300" fill="none" stroke="#b9bdcc" stroke-width=".8"/><circle cx="3" cy="3" r="1.100" fill="#18213f"/></svg>
<span class="t" style="left:435.55px;top:32.6px;font-size:5.8px;color:#1f2a49;transform:scaleX(1.039);">UI</span>
<svg class="a" style="left:424.6px;top:31.9px" width="6" height="6" viewBox="0 0 6 6"><rect x="1" y=".6" width="1.800" height="4.800" rx=".4" fill="#18213f"/><rect x="3.500" y=".6" width="1.300" height="4.800" rx=".4" fill="#b9bdcc"/></svg>
<span class="t" style="left:464.73px;top:32.6px;font-size:5.8px;color:#1f2a49;transform:scaleX(1.024);">Forms &amp; Table</span>
<svg class="a" style="left:454.4px;top:31.9px" width="6" height="6" viewBox="0 0 6 6"><path d="M.4 2.600h5.200c0 1.600-1.100 2.900-2.600 2.900S.4 4.200.4 2.600z" fill="#18213f"/><path d="M1.700 2.400L3 .6l1.300 1.800" fill="none" stroke="#18213f" stroke-width=".7"/></svg>
<span class="t" style="left:515.34px;top:32.6px;font-size:5.8px;color:#1f2a49;transform:scaleX(0.982);">MORE</span>
<div class="card" style="left:15.8px;top:54.2px;width:132.8px;height:98.1px;border-radius:4px"></div>
<span class="t" style="left:51.63px;top:63.7px;font-size:7.7px;color:#1b2142;transform:scaleX(1.058);">Overall Progress</span>
<svg class="a" style="left:36px;top:88px" width="92" height="50" viewBox="104 798 92 50"><path d="M176.17 820.02A35.9 35.9 0 0 1 185.90 844.60" fill="none" stroke="#e7e7e9" stroke-width="11.800"/><path d="M114.10 844.60A35.9 35.9 0 0 1 176.17 820.02" fill="none" stroke="#fbad23" stroke-width="11.800"/></svg>
<span class="t" style="left:72.53px;top:122.3px;font-size:10px;color:#33363f;transform:scaleX(0.940);">76%</span>
<div class="card" style="left:159.3px;top:54.2px;width:276.8px;height:98.1px;border-radius:4px"></div>
<div style="left:167.3px;top:62.4px;width:259.7px;height:5.6px;background:#e9eaee;border-radius:3px"></div>
<div style="left:167.3px;top:62.4px;width:174px;height:5.6px;background:repeating-linear-gradient(45deg,#fbad23 0 2.200px,#f9a010 2.200px 4.400px);border-radius:3px"></div>
<span class="t" style="left:179.92px;top:79.7px;font-size:7.9px;color:#252b48;transform:scaleX(1.071);">Planning</span>
<span class="t" style="left:250.22px;top:79.7px;font-size:7.9px;color:#252b48;transform:scaleX(1.076);">Design</span>
<span class="t" style="left:305.32px;top:79.7px;font-size:7.9px;color:#252b48;transform:scaleX(1.079);">Development</span>
<span class="t" style="left:384.63px;top:79.7px;font-size:7.9px;color:#252b48;transform:scaleX(1.081);">Testing</span>
<svg class="a" style="left:184.1px;top:98px" width="24.8" height="24.8" viewBox="0 0 24.800 24.800"><circle cx="12.400" cy="12.400" r="12.400" fill="#3795f6"/><path d="M6.300 12.600l4 4 7.600-7.800" fill="none" stroke="#fff" stroke-width="3.600" stroke-linecap="round" stroke-linejoin="round"/></svg>
<svg class="a" style="left:251.2px;top:98px" width="24.8" height="24.8" viewBox="0 0 24.800 24.800"><circle cx="12.400" cy="12.400" r="12.400" fill="#12875b"/><path d="M6.300 12.600l4 4 7.600-7.800" fill="none" stroke="#fff" stroke-width="3.600" stroke-linecap="round" stroke-linejoin="round"/></svg>
<svg class="a" style="left:316px;top:96.3px" width="30" height="30" viewBox="-15 -15 30 30"><circle r="13" fill="none" stroke="#efeff3" stroke-width="1.400"/><path d="M0 -13A13 13 0 1 1 -11.39 6.26" fill="none" stroke="#6f4cee" stroke-width="1.900" stroke-linecap="round"/></svg>
<span class="t" style="left:326.37px;top:110px;font-size:4.6px;color:#33363f;transform:scaleX(1.022);">67%</span>
<svg class="a" style="left:385.3px;top:98px" width="24.8" height="24.8" viewBox="0 0 24.800 24.800"><circle cx="12.400" cy="12.400" r="10.900" fill="#fff" stroke="#e8254d" stroke-width="3"/><path d="M12.700 6.200v6.700H7.300" fill="none" stroke="#e8254d" stroke-width="2.200"/></svg>
<span class="t" style="left:179.86px;top:130px;font-size:6px;color:#252b48;transform:scaleX(1.144);">Completed</span>
<span class="t" style="left:246.96px;top:130px;font-size:6px;color:#252b48;transform:scaleX(1.144);">Completed</span>
<span class="t" style="left:386.77px;top:130px;font-size:6px;color:#252b48;transform:scaleX(1.147);">Waiting</span>
<div class="card" style="left:445.7px;top:54.2px;width:132.8px;height:98.1px;border-radius:4px"></div>
<span class="t" style="left:469.33px;top:63.7px;font-size:7.7px;color:#1b2142;transform:scaleX(1.081);">Projected Launch Date</span>
<svg class="a" style="left:463.2px;top:98px" width="29.5" height="26" viewBox="0 0 29.500 26"><rect x=".9" y="1.800" width="1.900" height="23.500" rx=".9" fill="#12875b"/><circle cx="1.850" cy="2" r="1.850" fill="#12875b"/><path d="M3.600 6.100c4.300-3.400 8.500-2.600 12.400-.9 4 1.700 8 1 12.400-2.200v14.700c-4.300 3.300-8.400 3.900-12.400 2.200-3.900-1.700-8-2.500-12.400 1z" fill="#12875b"/></svg>
<span class="t" style="left:503.2px;top:99px;font-size:5.5px;color:#33363f;transform:scaleX(1.140);">Friday, December 15</span>
<span class="t" style="left:506.08px;top:112.3px;font-size:11.8px;color:#191d40;transform:scaleX(1.056);">212 Days</span>
<div class="card" style="left:16px;top:162.6px;width:132.6px;height:157.8px;border-radius:4px"></div>
<span class="t" style="left:23.35px;top:172.2px;font-size:7.7px;color:#1b2142;transform:scaleX(1.062);">Revenue on Projects</span>
<div style="left:16px;top:189.1px;width:132.6px;height:0.6px;background:#f1f1f4"></div>
<span class="t" style="left:23.12px;top:199.8px;font-size:10px;color:#6d7389;transform:scaleX(1.102);">Revenue</span>
<span class="t" style="left:23.58px;top:219.4px;font-size:4.7px;color:#7d8299;transform:scaleX(1.129);">KPI VALUE</span>
<span class="t" style="left:57.19px;top:219.4px;font-size:4.7px;color:#7d8299;transform:scaleX(1.118);">TARGET</span>
<span class="t" style="left:23.64px;top:226px;font-size:7.6px;color:#1b2142;transform:scaleX(0.956);-webkit-text-stroke:0.10px #1b2142;">26.15K</span>
<span class="t" style="left:56.91px;top:226px;font-size:7.6px;color:#1b2142;transform:scaleX(1.032);-webkit-text-stroke:0.10px #1b2142;">24.30K</span>
<span class="t" style="left:23.61px;top:241px;font-size:7.6px;color:#1b2142;transform:scaleX(1.017);-webkit-text-stroke:0.10px #1b2142;">75.00 %</span>
<span class="t" style="left:56.16px;top:243.6px;font-size:4.7px;color:#7d8299;transform:scaleX(1.124);">OF TARGET</span>
<div style="left:24px;top:255px;width:116.2px;height:8px;background:#e9eaee;border-radius:1.500px"></div>
<div style="left:24px;top:255px;width:87.7px;height:8px;background:#fba60b;border-radius:1.500px 0 0 1.500px"></div>
<span class="t" style="left:34.57px;top:257.6px;font-size:4px;font-weight:700;color:#fff;transform:scaleX(0.902);">25%</span>
<span class="t" style="left:63.99px;top:257.6px;font-size:4px;font-weight:700;color:#fff;transform:scaleX(0.900);">50%</span>
<span class="t" style="left:92.66px;top:257.6px;font-size:4px;font-weight:700;color:#fff;transform:scaleX(0.904);">75%</span>
<span class="t" style="left:23.56px;top:274.2px;font-size:4.7px;color:#7d8299;transform:scaleX(1.161);">PROJECT</span>
<div style="left:28.2px;top:302.7px;width:104.1px;height:0.5px;background:#e6e6ea"></div>
<div style="left:33.5px;top:291.6px;width:10.7px;height:11.2px;background:#fba60b"></div>
<div style="left:54.1px;top:294.4px;width:10.7px;height:8.4px;background:#fba60b"></div>
<div style="left:75.1px;top:289.1px;width:10.3px;height:13.7px;background:#fba60b"></div>
<div style="left:95.75px;top:292px;width:10.25px;height:10.8px;background:#fba60b"></div>
<div style="left:116px;top:292.5px;width:10.7px;height:10.3px;background:#fba60b"></div>
<div class="card" style="left:158.6px;top:162.6px;width:205px;height:157.8px;border-radius:4px"></div>
<span class="t" style="left:166.33px;top:172.2px;font-size:7.7px;color:#1b2142;transform:scaleX(1.084);">Project Budget</span>
<div style="left:158.6px;top:189.1px;width:205px;height:0.6px;background:#f1f1f4"></div>
<span class="t" style="left:178.77px;top:208.3px;font-size:4.5px;color:#222;transform:scaleX(1.041);">60</span>
<span class="t" style="left:178.81px;top:219.53px;font-size:4.5px;color:#222;transform:scaleX(1.031);">50</span>
<span class="t" style="left:178.91px;top:230.76px;font-size:4.5px;color:#222;">40</span>
<span class="t" style="left:178.81px;top:241.99px;font-size:4.5px;color:#222;transform:scaleX(1.031);">30</span>
<span class="t" style="left:178.77px;top:253.22px;font-size:4.5px;color:#222;transform:scaleX(1.041);">20</span>
<span class="t" style="left:178.64px;top:264.45px;font-size:4.5px;color:#222;transform:scaleX(1.067);">10</span>
<span class="t" style="left:180px;top:275.68px;font-size:4.5px;color:#222;transform:scaleX(1.111);">0</span>
<div style="left:188px;top:277.3px;width:80px;height:0.5px;background:#e9e9ec"></div>
<span class="t" style="left:-68.06px;top:-713px;font-size:4.3px;font-weight:700;color:#222;left:159px;top:240.6px;transform:rotate(-90deg);transform-origin:50% 50%;width:26px;text-align:center;">$ (thousands)</span>
<div style="left:206px;top:219.75px;width:13.1px;height:57.75px;background:#3795f6"></div>
<div style="left:221px;top:229.7px;width:13.1px;height:47.8px;background:#fba60b"></div>
<div style="left:236px;top:233px;width:13px;height:44.5px;background:#e8254d"></div>
<div style="left:173.6px;top:288.3px;width:4.7px;height:4.7px;background:#3795f6"></div>
<span class="t" style="left:179.65px;top:289.3px;font-size:4.9px;color:#333;transform:scaleX(1.031);">Total Budget</span>
<div style="left:212px;top:288.3px;width:4.7px;height:4.7px;background:#fba60b"></div>
<span class="t" style="left:217.6px;top:289.3px;font-size:4.9px;color:#333;transform:scaleX(1.031);">Budget Amount Used</span>
<div style="left:173.6px;top:299.2px;width:4.7px;height:4.7px;background:#e8254d"></div>
<span class="t" style="left:179.65px;top:300.2px;font-size:4.9px;color:#333;transform:scaleX(1.040);">Target Amount Used</span>
<span class="t" style="left:282.17px;top:200.3px;font-size:5.7px;color:#33363f;transform:scaleX(1.139);">Total Budget</span>
<span class="t" style="left:282.19px;top:210.8px;font-size:10.4px;color:#191d40;transform:scaleX(1.056);-webkit-text-stroke:0.29px #191d40;">$52,000</span>
<span class="t" style="left:281.77px;top:231.2px;font-size:5.7px;color:#33363f;transform:scaleX(1.154);">Remaining</span>
<span class="t" style="left:282.19px;top:241.3px;font-size:10.4px;color:#191d40;transform:scaleX(1.021);-webkit-text-stroke:0.29px #191d40;">$7,740</span>
<span class="t" style="left:281.98px;top:261.75px;font-size:5.7px;color:#33363f;transform:scaleX(1.139);">Currently</span>
<span class="t" style="left:281.86px;top:272px;font-size:10.4px;color:#e8254d;transform:scaleX(0.948);">8.2%</span>
<span class="t" style="left:306.68px;top:275px;font-size:6.6px;color:#e8254d;transform:scaleX(1.093);">Over Target</span>
<div class="card" style="left:374.1px;top:162.6px;width:204.2px;height:157.8px;border-radius:4px"></div>
<span class="t" style="left:382.03px;top:172.6px;font-size:7.7px;color:#1b2142;transform:scaleX(1.067);">Overdue Tasks</span>
<div style="left:376.2px;top:193px;width:200px;height:18.2px;background:#f7f8fa"></div>
<span class="t" style="left:381.04px;top:199.7px;font-size:5.5px;font-weight:700;color:#101014;transform:scaleX(1.179);">Overdue</span>
<span class="t" style="left:418.44px;top:199.7px;font-size:5.5px;font-weight:700;color:#101014;transform:scaleX(1.160);">Task</span>
<span class="t" style="left:496.38px;top:199.7px;font-size:5.5px;font-weight:700;color:#101014;transform:scaleX(1.172);">Deadline</span>
<span class="t" style="left:541.19px;top:199.7px;font-size:5.5px;font-weight:700;color:#101014;transform:scaleX(1.144);">Employee</span>
<span class="t" style="left:380.87px;top:219.5px;font-size:5.6px;color:#fba60b;transform:scaleX(1.021);-webkit-text-stroke:0.15px #fba60b;">1 Day</span>
<span class="t" style="left:418.2px;top:219.5px;font-size:5.6px;color:#24262d;transform:scaleX(1.178);">Status Update</span>
<span class="t" style="left:496.49px;top:219.5px;font-size:5.6px;color:#24262d;transform:scaleX(1.102);">2021-08-15</span>
<span class="t" style="left:541.08px;top:219.5px;font-size:5.6px;color:#24262d;transform:scaleX(1.162);">Paula</span>
<span class="t" style="left:381.17px;top:239.7px;font-size:5.6px;color:#fba60b;transform:scaleX(1.138);-webkit-text-stroke:0.15px #fba60b;">4 Day</span>
<span class="t" style="left:418px;top:239.7px;font-size:5.6px;color:#24262d;transform:scaleX(1.123);">Finish UX Optimizations</span>
<span class="t" style="left:496.49px;top:239.7px;font-size:5.6px;color:#24262d;transform:scaleX(1.104);">2021-08-12</span>
<span class="t" style="left:541.27px;top:239.7px;font-size:5.6px;color:#24262d;transform:scaleX(1.196);">Catherine</span>
<span class="t" style="left:380.84px;top:259.9px;font-size:5.6px;color:#e8254d;transform:scaleX(1.088);-webkit-text-stroke:0.15px #e8254d;">10 Days</span>
<span class="t" style="left:418.18px;top:259.9px;font-size:5.6px;color:#24262d;transform:scaleX(1.155);">Configure Mobile View</span>
<span class="t" style="left:496.47px;top:259.9px;font-size:5.6px;color:#24262d;transform:scaleX(1.173);">2021-08-06</span>
<span class="t" style="left:541.07px;top:259.9px;font-size:5.6px;color:#24262d;transform:scaleX(1.173);">Nancy</span>
<span class="t" style="left:380.98px;top:280.1px;font-size:5.6px;color:#e8254d;transform:scaleX(1.145);-webkit-text-stroke:0.15px #e8254d;">24 Day</span>
<span class="t" style="left:417.97px;top:280.1px;font-size:5.6px;color:#24262d;transform:scaleX(1.185);">Database Connections</span>
<span class="t" style="left:496.48px;top:280.1px;font-size:5.6px;color:#24262d;transform:scaleX(1.144);">2021-08-23</span>
<span class="t" style="left:541.27px;top:280.1px;font-size:5.6px;color:#24262d;transform:scaleX(1.173);">Georg</span>
<span class="t" style="left:380.98px;top:300.3px;font-size:5.6px;color:#fba60b;transform:scaleX(1.145);-webkit-text-stroke:0.15px #fba60b;">26 Day</span>
<span class="t" style="left:417.98px;top:300.3px;font-size:5.6px;color:#24262d;transform:scaleX(1.163);">Database Live</span>
<span class="t" style="left:496.47px;top:300.3px;font-size:5.6px;color:#24262d;transform:scaleX(1.173);">2021-08-28</span>
<span class="t" style="left:541.27px;top:300.3px;font-size:5.6px;color:#24262d;transform:scaleX(1.173);">Georg</span>
<div style="left:576.9px;top:200.2px;width:17.5px;height:52.2px;background:#fff;border-radius:3px 0 0 3px;box-shadow:0 0 3px rgba(0,0,0,.06)"></div>
<div style="left:580px;top:207.5px;width:7px;height:5.2px;background:#12875b;border-radius:1px"></div>
<div style="left:582.3px;top:208.9px;width:2.4px;height:2.4px;background:#fff;border-radius:50%;opacity:.85"></div>
<div style="left:580px;top:223.4px;width:7px;height:5.2px;background:#e8254d;border-radius:1px"></div>
<div style="left:582.3px;top:224.8px;width:2.4px;height:2.4px;background:#fff;border-radius:50%;opacity:.85"></div>
<div style="left:580px;top:238.4px;width:7px;height:5.2px;background:#fba60b;border-radius:1px"></div>
<div style="left:582.3px;top:239.8px;width:2.4px;height:2.4px;background:#fff;border-radius:50%;opacity:.85"></div>
<div class="card" style="left:16px;top:330.6px;width:132.6px;height:129.4px;border-radius:4px"></div>
<span class="t" style="left:23.84px;top:340.2px;font-size:7.7px;color:#1b2142;transform:scaleX(1.061);">Total Hours on Projects</span>
<div style="left:16px;top:356.3px;width:132.6px;height:0.6px;background:#f1f1f4"></div>
<span class="t" style="left:23.12px;top:367.8px;font-size:10px;color:#6d7389;transform:scaleX(1.096);">Hours</span>
<span class="t" style="left:23.58px;top:386.7px;font-size:4.7px;color:#7d8299;transform:scaleX(1.129);">KPI VALUE</span>
<span class="t" style="left:57.19px;top:386.7px;font-size:4.7px;color:#7d8299;transform:scaleX(1.118);">TARGET</span>
<span class="t" style="left:23.58px;top:393.7px;font-size:7.6px;color:#1b2142;transform:scaleX(1.106);-webkit-text-stroke:0.10px #1b2142;">296.00</span>
<span class="t" style="left:56.6px;top:393.7px;font-size:7.6px;color:#1b2142;transform:scaleX(1.061);-webkit-text-stroke:0.10px #1b2142;">273.00</span>
<span class="t" style="left:23.61px;top:408.7px;font-size:7.6px;color:#1b2142;transform:scaleX(1.017);-webkit-text-stroke:0.10px #1b2142;">75.00 %</span>
<span class="t" style="left:56.16px;top:411.3px;font-size:4.7px;color:#7d8299;transform:scaleX(1.124);">OF TARGET</span>
<div style="left:24px;top:422.6px;width:116.2px;height:8.2px;background:#e9eaee;border-radius:1.500px"></div>
<div style="left:24px;top:422.6px;width:87.7px;height:8.2px;background:#12875b;border-radius:1.500px 0 0 1.500px"></div>
<span class="t" style="left:34.57px;top:425.3px;font-size:4px;font-weight:700;color:#fff;transform:scaleX(0.902);">25%</span>
<span class="t" style="left:63.99px;top:425.3px;font-size:4px;font-weight:700;color:#fff;transform:scaleX(0.900);">50%</span>
<span class="t" style="left:92.66px;top:425.3px;font-size:4px;font-weight:700;color:#fff;transform:scaleX(0.904);">75%</span>
<span class="t" style="left:23.56px;top:442px;font-size:4.7px;color:#7d8299;transform:scaleX(1.161);">PROJECT</span>
<div class="card" style="left:159.9px;top:330.6px;width:204.4px;height:129.4px;border-radius:4px"></div>
<span class="t" style="left:167.5px;top:339.5px;font-size:7.7px;color:#1b2142;transform:scaleX(1.062);">Actual Hour Profit by Employee</span>
<div style="left:159.9px;top:355.2px;width:204.4px;height:0.6px;background:#f1f1f4"></div>
<div style="left:198.4px;top:370.6px;width:153.3px;height:0.5px;background:#ececef"></div>
<div style="left:198.4px;top:384px;width:153.3px;height:0.5px;background:#ececef"></div>
<div style="left:198.4px;top:397.4px;width:153.3px;height:0.5px;background:#ececef"></div>
<div style="left:198.4px;top:410.8px;width:153.3px;height:0.5px;background:#ececef"></div>
<div style="left:198.4px;top:424.2px;width:153.3px;height:0.5px;background:#ececef"></div>
<div style="left:198.4px;top:437.6px;width:153.3px;height:0.5px;background:#ececef"></div>
<div style="left:198.4px;top:451px;width:153.3px;height:0.5px;background:#ececef"></div>
<span class="t" style="left:183.16px;top:376.2px;font-size:4.6px;color:#111;transform:scaleX(0.914);">Mark</span>
<div style="left:198.4px;top:373.4px;width:137.2px;height:8.4px;background:#fba60b"></div>
<span class="t" style="left:180.94px;top:389.6px;font-size:4.6px;color:#111;transform:scaleX(0.938);">Jhone</span>
<div style="left:198.4px;top:386.8px;width:132.5px;height:8.4px;background:#fba60b"></div>
<span class="t" style="left:180.91px;top:403px;font-size:4.6px;color:#111;transform:scaleX(0.945);">Tanya</span>
<div style="left:198.4px;top:400.2px;width:129.9px;height:8.4px;background:#fba60b"></div>
<span class="t" style="left:181.14px;top:416.4px;font-size:4.6px;color:#111;transform:scaleX(0.970);">Paton</span>
<div style="left:198.4px;top:413.6px;width:117.3px;height:8.4px;background:#fba60b"></div>
<span class="t" style="left:182.16px;top:429.8px;font-size:4.6px;color:#111;transform:scaleX(0.919);">Mody</span>
<div style="left:198.4px;top:427px;width:106.9px;height:8.4px;background:#fba60b"></div>
<span class="t" style="left:175.5px;top:443.2px;font-size:4.6px;color:#111;transform:scaleX(0.877);">Anderson</span>
<div style="left:198.4px;top:440.4px;width:83.8px;height:8.4px;background:#fba60b"></div>
<div style="left:350.9px;top:370px;width:0.5px;height:80px;background:#a9ecd6"></div>
<div style="left:343.8px;top:375px;width:7.5px;height:16px;background:#1fd39b;border-radius:1px"></div>
<span class="t" style="left:-68.08px;top:-712px;font-size:3.4px;font-weight:700;color:#fff;left:339.55px;top:381.3px;transform:rotate(90deg);transform-origin:50% 50%;width:16px;text-align:center;">300k</span>
<div class="card" style="left:373.6px;top:330.6px;width:205.3px;height:129.4px;border-radius:4px"></div>
<span class="t" style="left:382px;top:339.5px;font-size:7.7px;color:#1b2142;transform:scaleX(1.063);">Achieved Hours per Project</span>
<div style="left:373.6px;top:355.2px;width:205.3px;height:0.6px;background:#f1f1f4"></div>
<div style="left:412.1px;top:370.6px;width:153.3px;height:0.5px;background:#ececef"></div>
<div style="left:412.1px;top:384px;width:153.3px;height:0.5px;background:#ececef"></div>
<div style="left:412.1px;top:397.4px;width:153.3px;height:0.5px;background:#ececef"></div>
<div style="left:412.1px;top:410.8px;width:153.3px;height:0.5px;background:#ececef"></div>
<div style="left:412.1px;top:424.2px;width:153.3px;height:0.5px;background:#ececef"></div>
<div style="left:412.1px;top:437.6px;width:153.3px;height:0.5px;background:#ececef"></div>
<div style="left:412.1px;top:451px;width:153.3px;height:0.5px;background:#ececef"></div>
<span class="t" style="left:387.62px;top:376.2px;font-size:4.6px;color:#111;transform:scaleX(1.024);">Project 1</span>
<div style="left:412.1px;top:373.4px;width:117.3px;height:8.4px;background:#12875b"></div>
<span class="t" style="left:387.62px;top:389.6px;font-size:4.6px;color:#111;transform:scaleX(1.026);">Project 2</span>
<div style="left:412.1px;top:386.8px;width:86.4px;height:8.4px;background:#12875b"></div>
<span class="t" style="left:387.62px;top:403px;font-size:4.6px;color:#111;transform:scaleX(1.023);">Project 3</span>
<div style="left:412.1px;top:400.2px;width:132.8px;height:8.4px;background:#12875b"></div>
<span class="t" style="left:387.62px;top:416.4px;font-size:4.6px;color:#111;transform:scaleX(1.020);">Project 4</span>
<div style="left:412.1px;top:413.6px;width:113.4px;height:8.4px;background:#12875b"></div>
<span class="t" style="left:387.62px;top:429.8px;font-size:4.6px;color:#111;transform:scaleX(1.023);">Project 5</span>
<div style="left:412.1px;top:427px;width:119px;height:8.4px;background:#12875b"></div>
<span class="t" style="left:387.62px;top:443.2px;font-size:4.6px;color:#111;transform:scaleX(1.023);">Project 6</span>
<div style="left:412.1px;top:440.4px;width:124.6px;height:8.4px;background:#12875b"></div>
<div style="left:527.2px;top:370px;width:0.5px;height:80px;background:#a9ecd6"></div>
<div style="left:519.8px;top:375px;width:7.7px;height:9.6px;background:#1fd39b;border-radius:1px"></div>
<span class="t" style="left:-68.1px;top:-712px;font-size:3.4px;font-weight:700;color:#fff;left:515.65px;top:378.1px;transform:rotate(90deg);transform-origin:50% 50%;width:16px;text-align:center;">85</span>
<div style="left:565.4px;top:415.5px;width:16.3px;height:16.4px;background:#fba518;border-radius:3.500px;box-shadow:0 1px 4px rgba(251,165,24,.5)"></div>
<svg class="a" style="left:570px;top:420px" width="7.2" height="7.2" viewBox="0 0 7.200 7.200"><path d="M1.300 1.300h4.600v4.600" fill="none" stroke="#fff" stroke-width="1.500"/><rect x="1" y="3.700" width="2.500" height="2.500" fill="#ffe0a3"/></svg>
</div>
</aside>
</body></html>
